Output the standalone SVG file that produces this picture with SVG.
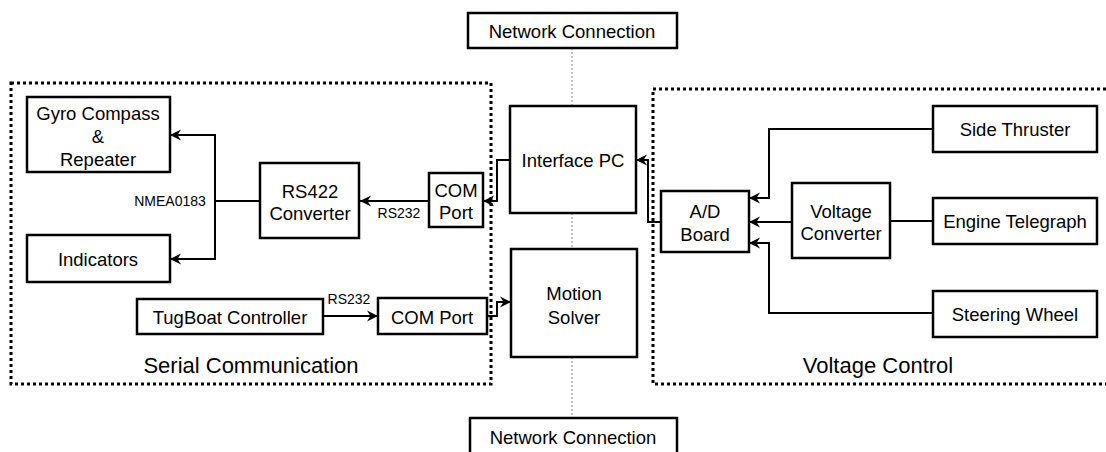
<svg xmlns="http://www.w3.org/2000/svg" width="1106" height="452" viewBox="0 0 1106 452">
  <style>
    .box { fill: #fff; stroke: #000; stroke-width: 2.5; }
    .zone { fill: none; stroke: #000; stroke-width: 3; stroke-dasharray: 3 3; }
    .wire { fill: none; stroke: #000; stroke-width: 2; }
    .net { fill: none; stroke: #888; stroke-width: 1; stroke-dasharray: 2 2; }
    text { font-family: "Liberation Sans", Arial, sans-serif; fill: #000; text-anchor: middle; dominant-baseline: central; }
    .lbl { font-size: 18.5px; }
    .sm { font-size: 14px; }
    .zt { font-size: 22px; }
  </style>
  <defs>
    <marker id="arr" markerUnits="userSpaceOnUse" markerWidth="12" markerHeight="12" viewBox="0 0 12 12" refX="11" refY="6" orient="auto">
      <path d="M0,0.5 L11,6 L0,11.5 L3.5,6 z" fill="#000"/>
    </marker>
  </defs>

  <!-- zone outlines -->
  <g id="zone-serial">
    <rect class="zone" x="11" y="83" width="480" height="301"/>
    <text class="zt" x="251" y="365">Serial Communication</text>
  </g>
  <g id="zone-voltage">
    <path class="zone" d="M1106,89 H653 V384 H1106"/>
    <text class="zt" x="878" y="365">Voltage Control</text>
  </g>

  <!-- connectors -->
  <g id="connectors">
    <path class="wire" d="M260,201 H215"/>
    <path class="wire" d="M215,201 V135 H170" marker-end="url(#arr)"/>
    <path class="wire" d="M215,201 V259 H170" marker-end="url(#arr)"/>
    <path class="wire" d="M429,201 H360" marker-end="url(#arr)"/>
    <path class="wire" d="M510,160 H497 V201 H483" marker-end="url(#arr)"/>
    <path class="wire" d="M323,316 H378" marker-end="url(#arr)"/>
    <path class="wire" d="M487,316 H497 V302 H511" marker-end="url(#arr)"/>
    <path class="wire" d="M661,222 H648 V160 H636" marker-end="url(#arr)"/>
    <path class="wire" d="M933,129 H769 V198 H749" marker-end="url(#arr)"/>
    <path class="wire" d="M792,222 H749" marker-end="url(#arr)"/>
    <path class="wire" d="M933,221 H890"/>
    <path class="wire" d="M933,313 H769 V243 H749" marker-end="url(#arr)"/>
    <path class="net" d="M572,48 V106"/>
    <path class="net" d="M572,213 V249"/>
    <path class="net" d="M572,357 V418"/>
    <text class="sm" x="170" y="201">NMEA0183</text>
    <text class="sm" x="399" y="213">RS232</text>
    <text class="sm" x="349" y="299">RS232</text>
  </g>

  <!-- nodes -->
  <g id="net-top">
    <rect class="box" x="468" y="13" width="209" height="35"/>
    <text class="lbl" x="572" y="31">Network Connection</text>
  </g>
  <g id="net-bottom">
    <rect class="box" x="470" y="418" width="207" height="40"/>
    <text class="lbl" x="573" y="437">Network Connection</text>
  </g>
  <g id="gyro">
    <rect class="box" x="27" y="97" width="143" height="75"/>
    <text class="lbl" x="98" y="113">Gyro Compass</text>
    <text class="lbl" x="98" y="136">&amp;</text>
    <text class="lbl" x="98" y="159">Repeater</text>
  </g>
  <g id="indicators">
    <rect class="box" x="27" y="235" width="143" height="47"/>
    <text class="lbl" x="98" y="259">Indicators</text>
  </g>
  <g id="rs422">
    <rect class="box" x="260" y="163" width="99" height="75"/>
    <text class="lbl" x="310" y="191">RS422</text>
    <text class="lbl" x="310" y="213">Converter</text>
  </g>
  <g id="com-upper">
    <rect class="box" x="429" y="173" width="54" height="54"/>
    <text class="lbl" x="456" y="190">COM</text>
    <text class="lbl" x="456" y="212">Port</text>
  </g>
  <g id="tugboat">
    <rect class="box" x="137" y="299" width="186" height="35"/>
    <text class="lbl" x="230" y="317">TugBoat Controller</text>
  </g>
  <g id="com-lower">
    <rect class="box" x="378" y="298" width="109" height="36"/>
    <text class="lbl" x="432" y="317">COM Port</text>
  </g>
  <g id="interface-pc">
    <rect class="box" x="510" y="106" width="126" height="107"/>
    <text class="lbl" x="573" y="160">Interface PC</text>
  </g>
  <g id="motion-solver">
    <rect class="box" x="511" y="249" width="126" height="108"/>
    <text class="lbl" x="574" y="293">Motion</text>
    <text class="lbl" x="574" y="317">Solver</text>
  </g>
  <g id="ad-board">
    <rect class="box" x="661" y="191" width="88" height="61"/>
    <text class="lbl" x="705" y="211">A/D</text>
    <text class="lbl" x="705" y="234">Board</text>
  </g>
  <g id="voltage-converter">
    <rect class="box" x="792" y="183" width="98" height="75"/>
    <text class="lbl" x="841" y="211">Voltage</text>
    <text class="lbl" x="841" y="233">Converter</text>
  </g>
  <g id="side-thruster">
    <rect class="box" x="933" y="106" width="164" height="46"/>
    <text class="lbl" x="1015" y="129">Side Thruster</text>
  </g>
  <g id="engine-telegraph">
    <rect class="box" x="933" y="198" width="164" height="46"/>
    <text class="lbl" x="1015" y="221">Engine Telegraph</text>
  </g>
  <g id="steering-wheel">
    <rect class="box" x="933" y="291" width="164" height="46"/>
    <text class="lbl" x="1015" y="314">Steering Wheel</text>
  </g>
</svg>
